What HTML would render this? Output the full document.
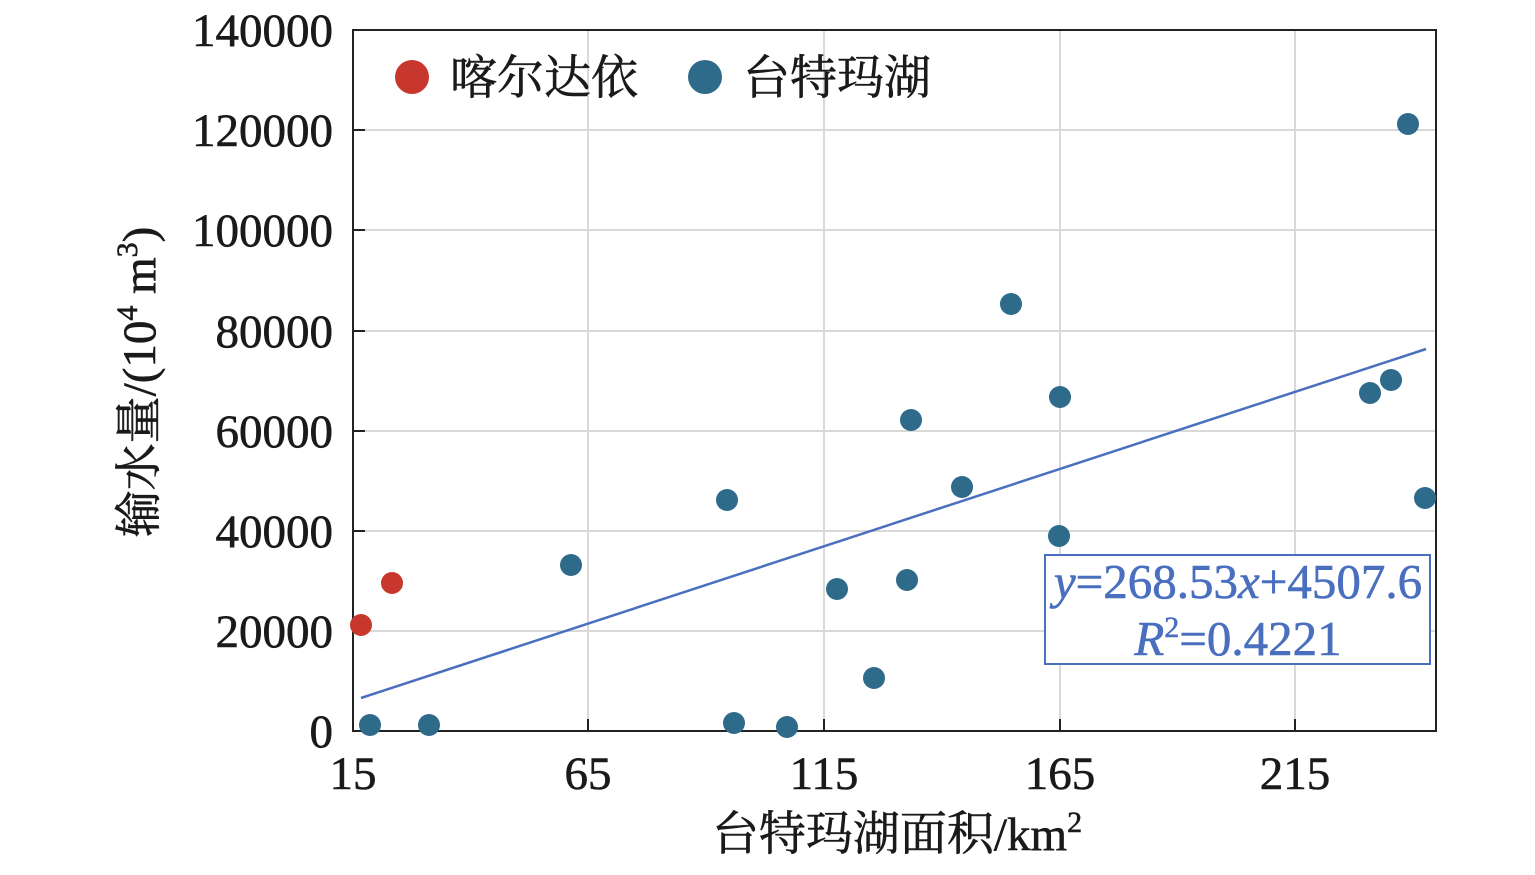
<!DOCTYPE html>
<html><head><meta charset="utf-8"><style>
html,body{margin:0;padding:0;background:#fff;}
text{font-family:"Liberation Serif","Noto Serif CJK SC",serif;fill:#1a1a1a;stroke:#1a1a1a;stroke-width:0.6;}
</style></head><body>
<svg width="1535" height="870" viewBox="0 0 1535 870" xmlns="http://www.w3.org/2000/svg">
<rect width="1535" height="870" fill="#fff"/>
<g stroke="#d9d9d9" stroke-width="2">
<line x1="588" y1="30" x2="588" y2="731"/><line x1="824" y1="30" x2="824" y2="731"/>
<line x1="1060" y1="30" x2="1060" y2="731"/><line x1="1295" y1="30" x2="1295" y2="731"/>
<line x1="353" y1="130" x2="1436" y2="130"/><line x1="353" y1="230" x2="1436" y2="230"/>
<line x1="353" y1="331" x2="1436" y2="331"/><line x1="353" y1="431" x2="1436" y2="431"/>
<line x1="353" y1="531" x2="1436" y2="531"/><line x1="353" y1="631" x2="1436" y2="631"/>
</g>
<g stroke="#222" stroke-width="2">
<line x1="353" y1="130" x2="365" y2="130"/><line x1="353" y1="230" x2="365" y2="230"/>
<line x1="353" y1="331" x2="365" y2="331"/><line x1="353" y1="431" x2="365" y2="431"/>
<line x1="353" y1="531" x2="365" y2="531"/><line x1="353" y1="631" x2="365" y2="631"/>
<line x1="588" y1="731" x2="588" y2="719"/><line x1="824" y1="731" x2="824" y2="719"/>
<line x1="1060" y1="731" x2="1060" y2="719"/><line x1="1295" y1="731" x2="1295" y2="719"/>
</g>
<rect x="353" y="30" width="1083" height="701" fill="none" stroke="#222" stroke-width="2"/>
<g font-size="47" text-anchor="end">
<text x="333" y="46">140000</text><text x="333" y="146">120000</text>
<text x="333" y="246">100000</text><text x="333" y="347">80000</text>
<text x="333" y="447">60000</text><text x="333" y="547">40000</text>
<text x="333" y="647">20000</text><text x="333" y="747">0</text>
</g>
<g font-size="47" text-anchor="middle">
<text x="353" y="789">15</text><text x="588" y="789">65</text>
<text x="824" y="789">115</text><text x="1060" y="789">165</text><text x="1295" y="789">215</text>
</g>
<text x="897" y="850" font-size="47" text-anchor="middle">台特玛湖面积/km<tspan font-size="30" dy="-18">2</tspan></text>
<text transform="translate(155,382) rotate(-90)" font-size="47" text-anchor="middle">输水量/(10<tspan font-size="30" dy="-18">4</tspan><tspan dy="18"> m</tspan><tspan font-size="30" dy="-18">3</tspan><tspan dy="18">)</tspan></text>
<line x1="361" y1="698" x2="1426" y2="349" stroke="#4a6fbf" stroke-width="2.5"/>
<g fill="#2e6a8a">
<circle cx="370" cy="725" r="11"/><circle cx="429" cy="725" r="11"/><circle cx="571" cy="565" r="11"/>
<circle cx="727" cy="500" r="11"/><circle cx="734" cy="723" r="11"/><circle cx="787" cy="727" r="11"/>
<circle cx="837" cy="589" r="11"/><circle cx="874" cy="678" r="11"/><circle cx="907" cy="580" r="11"/>
<circle cx="911" cy="420" r="11"/><circle cx="962" cy="487" r="11"/><circle cx="1011" cy="304" r="11"/>
<circle cx="1060" cy="397" r="11"/><circle cx="1059" cy="536" r="11"/><circle cx="1370" cy="393" r="11"/>
<circle cx="1391" cy="380" r="11"/><circle cx="1408" cy="124" r="11"/><circle cx="1425" cy="498" r="11"/>
<circle cx="705" cy="77" r="17"/>
</g>
<g fill="#c8372d">
<circle cx="361" cy="625" r="11"/><circle cx="392" cy="583" r="11"/><circle cx="412" cy="77" r="17"/>
</g>
<text x="450" y="94" font-size="47">喀尔达依</text>
<text x="743" y="94" font-size="47">台特玛湖</text>
<rect x="1045" y="555" width="385" height="109" fill="#fff" stroke="#4a6fbf" stroke-width="2"/>
<g font-size="49" text-anchor="middle">
<text x="1238" y="598" style="fill:#4a6fbf;stroke:#4a6fbf"><tspan font-style="italic">y</tspan>=268.53<tspan font-style="italic">x</tspan>+4507.6</text>
<text x="1238" y="655" style="fill:#4a6fbf;stroke:#4a6fbf"><tspan font-style="italic">R</tspan><tspan font-size="30" dy="-18">2</tspan><tspan dy="18">=0.4221</tspan></text>
</g>
</svg>
</body></html>
